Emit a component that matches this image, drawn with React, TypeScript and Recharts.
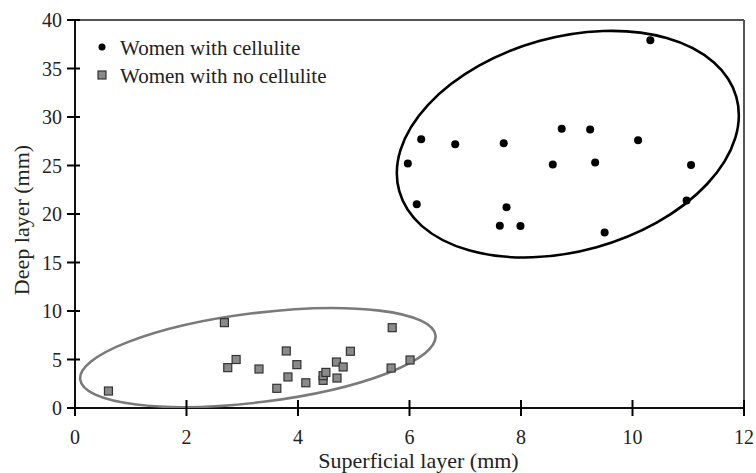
import React from 'react';
import {
  ScatterChart,
  Scatter,
  XAxis,
  YAxis,
  ReferenceLine,
} from 'recharts';

// Superficial (x) vs deep (y) layer thickness, mm
const cellX = [6.21, 6.82, 7.69, 8.73, 9.24, 10.1, 5.97, 8.57, 9.33, 11.05, 6.13, 7.74, 10.97, 7.62, 7.99, 9.5, 10.32];
const cellY = [27.7, 27.2, 27.3, 28.8, 28.7, 27.6, 25.2, 25.1, 25.3, 25.05, 21.0, 20.7, 21.4, 18.8, 18.76, 18.1, 37.9];

const noCellX = [0.6, 2.68, 2.74, 2.89, 3.3, 3.62, 3.79, 3.82, 3.98, 4.14, 4.45, 4.45, 4.5, 4.69, 4.7, 4.81, 4.94, 5.69, 5.67, 6.01];
const noCellY = [1.75, 8.8, 4.16, 5.0, 4.02, 2.03, 5.88, 3.2, 4.47, 2.6, 2.85, 3.33, 3.67, 4.74, 3.09, 4.23, 5.85, 8.28, 4.12, 4.95];

// group centres (data units)
const cellCentre = [{ x: 8.84, y: 27.2 }];
const noCellCentre = [{ x: 3.28, y: 5.2 }];

const xTicks = [0, 2, 4, 6, 8, 10, 12];
const yTicks = [0, 5, 10, 15, 20, 25, 30, 35, 40];

const cellData = cellX.map((x, i) => ({ x, y: cellY[i] }));
const noCellData = noCellX.map((x, i) => ({ x, y: noCellY[i] }));

const font = '"Liberation Serif", "Times New Roman", serif';
const ink = '#111';

// tick lines cross the axis, so they are drawn here instead of by tickLine
function XTick(props: any) {
  const { x, y, payload } = props;
  return (
    <g>
      <path d={`M${x},${y - 8}L${x},${y + 8}`} stroke="#000" strokeWidth={2} fill="none" />
      <text x={x} y={y + 36} textAnchor="middle" fontSize={20} fontFamily={font} fill="#222">
        {payload.value}
      </text>
    </g>
  );
}

function YTick(props: any) {
  const { x, y, payload } = props;
  return (
    <g>
      <path d={`M${x - 8},${y}L${x + 5},${y}`} stroke="#000" strokeWidth={2} fill="none" />
      <text x={x - 13} y={y + 7} textAnchor="end" fontSize={20} fontFamily={font} fill="#222">
        {payload.value}
      </text>
    </g>
  );
}

const Dot = ({ cx, cy }: any) => <circle cx={cx} cy={cy} r={4} fill="#000" />;

const Sq = ({ cx, cy }: any) => (
  <rect x={cx - 4} y={cy - 4} width={8} height={8} fill="#8a8a8a" stroke="#333" strokeWidth={1.2} />
);

const ellipseShape = (rx: number, ry: number, angle: number, stroke: string) => ({ cx, cy }: any) => (
  <ellipse
    cx={cx}
    cy={cy}
    rx={rx}
    ry={ry}
    transform={`rotate(${-angle} ${cx} ${cy})`}
    fill="none"
    stroke={stroke}
    strokeWidth={2.6}
  />
);

const XLabel = ({ viewBox }: any) => (
  <text x={viewBox.x + viewBox.width / 2 + 9} y={468} textAnchor="middle" fontSize={22} fontFamily={font} fill="#222">
    Superficial layer (mm)
  </text>
);

const YLabel = () => (
  <text x={29} y={220} transform="rotate(-90 29 220)" textAnchor="middle" fontSize={22} fontFamily={font} fill="#222">
    Deep layer (mm)
  </text>
);

export default function App() {
  return (
    <div style={{ position: 'absolute', left: 0, top: 0, width: 756, height: 473, background: '#fff' }}>
      <ScatterChart width={756} height={473} margin={{ top: 20, right: 12, left: 0, bottom: 0 }}>
        <XAxis
          type="number"
          dataKey="x"
          domain={[0, 12]}
          ticks={xTicks}
          height={65}
          tickSize={0}
          tickMargin={0}
          tickLine={false}
          tick={(p: any) => <XTick {...p} />}
          axisLine={{ stroke: ink, strokeWidth: 2 }}
          label={<XLabel />}
          allowDataOverflow
        />
        <YAxis
          type="number"
          dataKey="y"
          domain={[0, 40]}
          ticks={yTicks}
          width={75}
          tickSize={0}
          tickMargin={0}
          tickLine={false}
          tick={(p: any) => <YTick {...p} />}
          axisLine={{ stroke: ink, strokeWidth: 2 }}
          label={<YLabel />}
          allowDataOverflow
        />
        <ReferenceLine y={40} stroke="#555" strokeWidth={2} />
        <ReferenceLine x={12} stroke="#555" strokeWidth={2} />
        <Scatter data={cellCentre} shape={ellipseShape(175, 107, 15.6, '#000')} isAnimationActive={false} />
        <Scatter data={noCellCentre} shape={ellipseShape(179, 44.6, 7.1, '#7a7a7a')} isAnimationActive={false} />
        <Scatter name="Women with cellulite" data={cellData} shape={<Dot />} isAnimationActive={false} />
        <Scatter name="Women with no cellulite" data={noCellData} shape={<Sq />} isAnimationActive={false} />
      </ScatterChart>
      <svg width={756} height={473} style={{ position: 'absolute', left: 0, top: 0, pointerEvents: 'none' }}>
        <circle cx={102} cy={47} r={3.5} fill="#000" />
        <text x={120} y={55} fontSize={21} fontFamily={font} fill="#222">Women with cellulite</text>
        <rect x={98} y={71} width={8} height={8} fill="#8a8a8a" stroke="#333" strokeWidth={1.2} />
        <text x={120} y={83} fontSize={21} fontFamily={font} fill="#222">Women with no cellulite</text>
      </svg>
    </div>
  );
}
